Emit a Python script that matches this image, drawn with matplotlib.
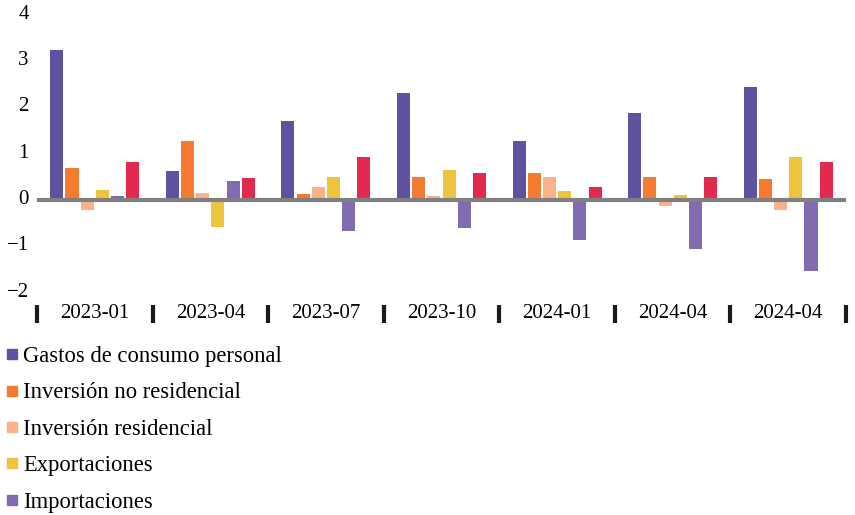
import matplotlib
matplotlib.use("Agg")
import matplotlib.pyplot as plt
import matplotlib.transforms as mtransforms
from matplotlib.lines import Line2D
import numpy as np

# Quarterly contributions (percentage points)
periods = ["2023-01", "2023-04", "2023-07", "2023-10", "2024-01", "2024-04", "2024-04"]
series_names = [
    "Gastos de consumo personal",
    "Inversión no residencial",
    "Inversión residencial",
    "Exportaciones",
    "Importaciones",
    "Gasto del gobierno",
]
consumo = [3.25, 0.62, 1.70, 2.30, 1.27, 1.87, 2.43]
inv_no_res = [0.69, 1.27, 0.13, 0.49, 0.58, 0.49, 0.45]
inv_res = [-0.21, 0.15, 0.28, 0.09, 0.49, -0.13, -0.22]
exportaciones = [0.21, -0.58, 0.49, 0.65, 0.19, 0.11, 0.92]
importaciones = [0.09, 0.41, -0.67, -0.60, -0.86, -1.05, -1.53]
gobierno = [0.82, 0.47, 0.92, 0.58, 0.28, 0.49, 0.82]
colors = ["#5F52A0", "#F47B30", "#F9B28A", "#EDC43D", "#816BB1", "#E2294F"]
in_legend = 5  # the last entry falls outside the picture

plt.rcParams["font.family"] = ["Liberation Serif", "DejaVu Serif"]

fig = plt.figure(figsize=(8.55, 5.15), dpi=100)
ax = fig.add_axes([37 / 855, 1 - 305 / 515, (846 - 37) / 855, (305 - 12.5) / 515])

data = [consumo, inv_no_res, inv_res, exportaciones, importaciones, gobierno]
x = np.arange(len(periods))
slot = 0.1316
width = 0.113
for i, (vals, c) in enumerate(zip(data, colors)):
    ax.bar(x + (i - 2.5) * slot, vals, width=width, color=c, zorder=2)

ax.axhline(0, color="#808080", lw=3, zorder=3)
ax.set_xlim(-0.5, len(periods) - 0.5)
ax.set_ylim(-2.27, 4.05)

for s in ax.spines.values():
    s.set_visible(False)

# y axis: labels only
ax.set_yticks([-2, -1, 0, 1, 2, 3, 4])
ax.set_yticklabels(["\u22122", "\u22121", "0", "1", "2", "3", "4"])
ax.tick_params(axis="y", length=0, pad=6, labelsize=15)
offset = mtransforms.ScaledTranslation(0, 3 / 100, fig.dpi_scale_trans)
for lab in ax.get_yticklabels():
    lab.set_transform(lab.get_transform() + offset)

# x axis: boundary ticks, centered labels
ax.set_xticks(np.arange(-0.5, len(periods), 1.0))
ax.set_xticklabels([])
ax.tick_params(axis="x", which="major", length=13, width=3, color="#1a1a1a", direction="out")
ax.set_xticks(x, minor=True)
ax.set_xticklabels(periods, minor=True)
ax.tick_params(axis="x", which="minor", length=0, pad=-1, labelsize=15)

handles = [Line2D([], [], marker="s", ls="none", markersize=7, color=c) for c in colors[:in_legend]]
fig.legend(handles, series_names[:in_legend], loc="upper left",
           bbox_to_anchor=(-0.010, 1 - 337 / 515), frameon=False, fontsize=16.3,
           handletextpad=0.0, handlelength=1.0, labelspacing=0.68, borderaxespad=0)

fig.savefig("out.png", dpi=100)
